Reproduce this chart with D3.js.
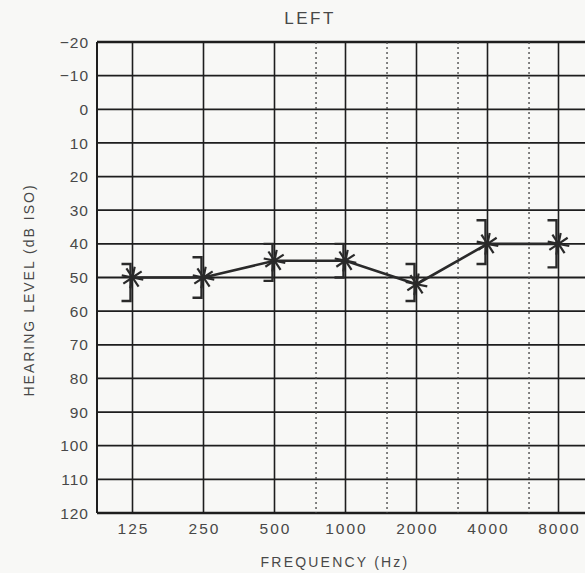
<!DOCTYPE html>
<html><head><meta charset="utf-8">
<script src="https://cdn.jsdelivr.net/npm/d3@7"></script>
<style>html,body{margin:0;padding:0;background:#f8f8f6;}svg{display:block;}</style>
</head><body>
<script>
const frequencies = [125, 250, 500, 1000, 2000, 4000, 8000];
const freqLabels = ["125", "250", "500", "1000", "2000", "4000", "8000"];
const midFrequencies = [750, 1500, 3000, 6000];
const hearingLevels = [50, 50, 45, 45, 52, 40, 40];
const bracketTop = [46, 44, 40, 40, 46, 33, 33];
const bracketBottom = [57, 56, 51, 50, 57, 46, 47];
const dbTicks = [-20, -10, 0, 10, 20, 30, 40, 50, 60, 70, 80, 90, 100, 110, 120];

const W = 585, H = 573;
const svg = d3.select("body").append("svg").attr("width", W).attr("height", H);
const x = d3.scaleLog().base(2).domain([125 / Math.SQRT2, 8000 * Math.SQRT2]).range([97, 594]);
const y = d3.scaleLinear().domain([-20, 120]).range([42, 513]);
const ink = "#1e1e1e", txt = "#484848";
const font = "Liberation Sans, Arial, sans-serif";

// horizontal grid
svg.append("g").selectAll("line").data(dbTicks).join("line")
  .attr("x1", x.range()[0]).attr("x2", W + 20)
  .attr("y1", d => y(d)).attr("y2", d => y(d))
  .attr("stroke", ink).attr("stroke-width", d => (d === -20 || d === 120) ? 2.4 : 1.8);
// vertical grid solid
svg.append("g").selectAll("line").data([125 / Math.SQRT2, ...frequencies, 8000 * Math.SQRT2]).join("line")
  .attr("x1", d => x(d)).attr("x2", d => x(d))
  .attr("y1", y(-20)).attr("y2", y(120))
  .attr("stroke", ink).attr("stroke-width", (d, i) => i === 0 ? 2 : 1.6);
// vertical dotted
svg.append("g").selectAll("line").data(midFrequencies).join("line")
  .attr("x1", d => x(d)).attr("x2", d => x(d))
  .attr("y1", y(-20)).attr("y2", y(120))
  .attr("stroke", "#444").attr("stroke-width", 1.3).attr("stroke-dasharray", "2,3");

// y tick labels
svg.append("g").selectAll("text").data(dbTicks).join("text")
  .attr("x", 89).attr("y", d => y(d)).attr("dy", "0.36em")
  .attr("text-anchor", "end").attr("font-family", font).attr("font-size", 15.5).attr("letter-spacing", 1)
  .attr("fill", txt)
  .text(d => d < 0 ? "\u2212" + Math.abs(d) : d);
// x tick labels
svg.append("g").selectAll("text").data(frequencies).join("text")
  .attr("x", d => x(d) + 1).attr("y", 534)
  .attr("text-anchor", "middle").attr("font-family", font).attr("font-size", 15.5).attr("letter-spacing", 2)
  .attr("fill", txt)
  .text((d, i) => freqLabels[i]);

// titles
svg.append("text").attr("x", 310).attr("y", 24).attr("text-anchor", "middle")
  .attr("font-family", font).attr("font-size", 17).attr("fill", txt).attr("letter-spacing", 2.5).text("LEFT");
svg.append("text").attr("x", 335).attr("y", 567).attr("text-anchor", "middle")
  .attr("font-family", font).attr("font-size", 14).attr("fill", txt).attr("letter-spacing", 2.2).text("FREQUENCY (Hz)");
svg.append("text").attr("transform", "translate(34,290) rotate(-90)").attr("text-anchor", "middle")
  .attr("font-family", font).attr("font-size", 14).attr("fill", txt).attr("letter-spacing", 2).text("HEARING LEVEL (dB ISO)");

// data line
const pts = frequencies.map((f, i) => [x(f), y(hearingLevels[i])]);
svg.append("path").attr("d", d3.line()(pts)).attr("fill", "none")
  .attr("stroke", "#2a2a2a").attr("stroke-width", 2.6);

// brackets
const bg = svg.append("g").attr("stroke", "#2a2a2a").attr("stroke-width", 2.4).attr("fill", "none");
frequencies.forEach((f, i) => {
  const cx = x(f) - 2;
  bg.append("path").attr("d", `M${cx - 9},${y(bracketTop[i])}H${cx}V${y(bracketBottom[i])}H${cx - 9}`);
});
// asterisks
const ag = svg.append("g").attr("stroke", "#2a2a2a").attr("stroke-width", 2.2);
const angles = d3.range(8).map(k => k * Math.PI / 4 + 0.2);
pts.forEach(p => {
  angles.forEach(a => {
    ag.append("line").attr("x1", p[0]).attr("y1", p[1])
      .attr("x2", p[0] + 11 * Math.cos(a)).attr("y2", p[1] + 11 * Math.sin(a));
  });
});
</script>
</body></html>
